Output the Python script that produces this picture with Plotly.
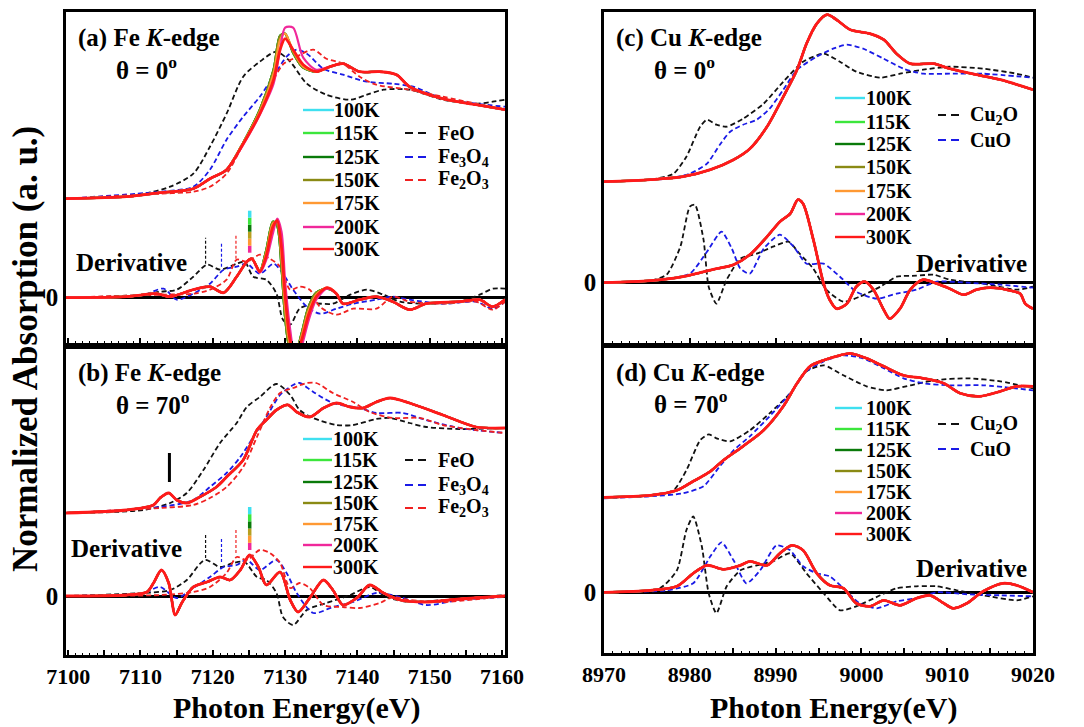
import plotly.graph_objects as go

W, H = 1084, 727
FONT = "Liberation Serif"

# ---------------- categories / styles ----------------
TEMPS = ["100K", "115K", "125K", "150K", "175K", "200K", "300K"]
TEMP_COLORS = ["#3FE0F0", "#3CE63C", "#0A7A0A", "#8A8A14", "#FF9933", "#F0289A", "#FF1A1A"]
FE_REFS = ["FeO", "Fe<sub>3</sub>O<sub>4</sub>", "Fe<sub>2</sub>O<sub>3</sub>"]
FE_REF_COLORS = ["#111111", "#1A1AE6", "#F02020"]
CU_REFS = ["Cu<sub>2</sub>O", "CuO"]
CU_REF_COLORS = ["#111111", "#1A1AE6"]

FE_TICKVALS = [7100, 7105, 7110, 7115, 7120, 7125, 7130, 7135, 7140, 7145, 7150, 7155, 7160]
FE_TICKTEXT = ["7100", "", "7110", "", "7120", "", "7130", "", "7140", "", "7150", "", "7160"]
CU_TICKVALS = [8970, 8975, 8980, 8985, 8990, 8995, 9000, 9005, 9010, 9015, 9020]
CU_TICKTEXT = ["8970", "", "8980", "", "8990", "", "9000", "", "9010", "", "9020"]

# ---------------- panel (a): Fe K-edge, theta = 0 ----------------
A_XAN_E = [7099.7, 7108.1, 7112.7, 7117.3, 7119.6, 7121.9, 7124.2, 7126.5, 7128.4, 7129.3, 7130.0, 7131.1,
           7132.5, 7134.3, 7136.2, 7138.0, 7140.3, 7143.1, 7145.4, 7147.2, 7151.8, 7156.4, 7160.4]
A_XAN_LOW = [0.99, 1.01, 1.05, 1.09, 1.19, 1.28, 1.55, 1.88, 2.28, 2.62, 2.64, 2.45,
             2.30, 2.26, 2.31, 2.34, 2.26, 2.26, 2.23, 2.11, 1.99, 1.93, 1.88]
A_XAN_175 = [0.99, 1.01, 1.05, 1.09, 1.19, 1.28, 1.55, 1.86, 2.24, 2.58, 2.64, 2.47,
             2.31, 2.26, 2.31, 2.34, 2.26, 2.26, 2.23, 2.11, 1.99, 1.93, 1.88]
A_XAN_200 = [0.99, 1.01, 1.05, 1.09, 1.19, 1.28, 1.53, 1.83, 2.14, 2.48, 2.70, 2.70,
             2.40, 2.28, 2.31, 2.34, 2.26, 2.26, 2.23, 2.11, 1.99, 1.93, 1.88]
A_XAN_300 = [0.99, 1.01, 1.05, 1.09, 1.19, 1.28, 1.54, 1.84, 2.18, 2.48, 2.59, 2.48,
             2.33, 2.26, 2.31, 2.34, 2.26, 2.26, 2.23, 2.11, 1.99, 1.93, 1.88]

A_DER_E = [7099.7, 7108.1, 7112.2, 7114.1, 7117.3, 7119.6, 7121.5, 7123.3, 7124.7, 7125.4, 7126.5, 7127.4,
           7128.3, 7128.9, 7129.5, 7130.0, 7130.7, 7131.4, 7132.3, 7133.2, 7134.3, 7135.8, 7137.1, 7138.0,
           7140.3, 7142.6, 7144.9, 7147.2, 7149.5, 7154.1, 7156.9, 7158.7, 7160.4]
A_DER_LOW = [0, 0.01, 0.04, 0.01, 0.08, 0.11, 0.05, 0.21, 0.36, 0.39, 0.27, 0.48,
             0.76, 0.72, 0.30, -0.20, -0.52, -0.55, -0.35, -0.10, 0.05, 0.09, 0.04, -0.06,
             -0.02, 0.01, -0.04, -0.12, -0.06, -0.04, -0.02, -0.09, -0.02]
A_DER_175 = [0, 0.01, 0.04, 0.01, 0.08, 0.11, 0.05, 0.21, 0.36, 0.39, 0.27, 0.45,
             0.74, 0.76, 0.40, -0.10, -0.48, -0.57, -0.38, -0.14, 0.03, 0.10, 0.04, -0.06,
             -0.02, 0.01, -0.04, -0.12, -0.06, -0.04, -0.02, -0.09, -0.02]
A_DER_200 = [0, 0.01, 0.04, 0.01, 0.08, 0.11, 0.05, 0.21, 0.36, 0.39, 0.25, 0.38,
             0.64, 0.79, 0.66, 0.16, -0.32, -0.60, -0.48, -0.24, -0.02, 0.09, 0.04, -0.06,
             -0.02, 0.01, -0.04, -0.12, -0.06, -0.04, -0.02, -0.09, -0.02]
A_DER_300 = [0, 0.01, 0.04, 0.01, 0.08, 0.11, 0.05, 0.21, 0.36, 0.39, 0.26, 0.42,
             0.71, 0.77, 0.50, 0.02, -0.43, -0.58, -0.42, -0.18, 0.01, 0.10, 0.04, -0.06,
             -0.02, 0.01, -0.04, -0.12, -0.06, -0.04, -0.02, -0.09, -0.02]

A_FEO_E = [7099.7, 7110.4, 7114.1, 7117.3, 7119.6, 7121.9, 7124.2, 7126.5, 7128.8, 7130.7, 7133.0, 7135.7,
           7139.0, 7141.3, 7143.6, 7147.2, 7151.8, 7156.4, 7158.7, 7160.4]
A_FEO_XAN = [0.99, 1.04, 1.11, 1.24, 1.51, 1.84, 2.21, 2.36, 2.46, 2.36, 2.14, 2.03,
             1.98, 2.03, 2.08, 2.08, 1.98, 1.94, 1.96, 1.98]
A_FE3O4_E = [7099.7, 7112.7, 7117.3, 7119.6, 7121.9, 7124.2, 7126.5, 7128.8, 7130.2, 7131.6, 7133.0, 7135.3,
             7138.0, 7141.3, 7144.9, 7147.7, 7151.8, 7156.4, 7160.4]
A_FE3O4_XAN = [0.99, 1.06, 1.11, 1.28, 1.58, 1.81, 2.01, 2.26, 2.41, 2.48, 2.44, 2.29,
               2.23, 2.16, 2.14, 2.11, 1.99, 1.94, 1.91]
A_FE2O3_E = [7099.7, 7112.7, 7117.3, 7119.6, 7121.9, 7124.2, 7126.5, 7128.4, 7129.8, 7131.1, 7133.9, 7135.7,
             7138.0, 7140.3, 7142.6, 7147.2, 7151.8, 7156.4, 7160.4]
A_FE2O3_XAN = [0.99, 1.04, 1.06, 1.11, 1.24, 1.54, 1.88, 2.18, 2.34, 2.39, 2.48, 2.39,
               2.34, 2.21, 2.13, 2.08, 2.01, 1.94, 1.88]

A_FEO_DE = [7099.7, 7110.4, 7112.7, 7115.0, 7117.3, 7119.2, 7121.0, 7123.3, 7124.4, 7125.6, 7127.4, 7128.8,
            7129.7, 7130.7, 7132.0, 7133.9, 7136.6, 7139.0, 7141.3, 7143.6, 7145.9, 7149.5, 7154.1, 7156.9,
            7158.7, 7160.4]
A_FEO_DER = [0, 0.03, 0.06, 0.08, 0.21, 0.33, 0.28, 0.34, 0.36, 0.21, 0.18, 0.04,
             -0.22, -0.27, -0.11, -0.06, -0.06, 0.03, 0.08, 0.03, -0.04, -0.06, -0.04, 0.03,
             0.09, 0.09]
A_FE3O4_DE = [7099.7, 7110.4, 7113.2, 7115.0, 7117.3, 7119.6, 7121.5, 7123.3, 7124.7, 7126.5, 7128.4, 7129.7,
              7131.1, 7133.0, 7134.8, 7137.1, 7139.4, 7142.6, 7144.9, 7147.2, 7151.8, 7156.4, 7158.7, 7160.4]
A_FE3O4_DER = [0, 0.03, 0.09, -0.02, 0.04, 0.14, 0.28, 0.31, 0.34, 0.24, 0.34, 0.24,
               0.08, -0.09, -0.16, -0.11, -0.06, -0.02, 0.01, -0.02, -0.06, -0.04, -0.11, -0.04]
A_FE2O3_DE = [7099.7, 7112.7, 7117.3, 7119.6, 7121.9, 7123.3, 7124.7, 7126.5, 7127.9, 7129.3, 7130.7, 7132.0,
              7133.4, 7134.8, 7137.1, 7139.4, 7142.6, 7144.9, 7147.2, 7151.8, 7156.4, 7158.7, 7160.4]
A_FE2O3_DER = [0, 0.03, 0.04, 0.08, 0.18, 0.38, 0.36, 0.43, 0.39, 0.31, 0.08, 0.11,
               0.08, -0.09, -0.17, -0.11, -0.11, 0.01, -0.04, -0.06, -0.04, -0.12, -0.04]

# ---------------- panel (b): Fe K-edge, theta = 70 ----------------
B_XAN_E = [7099.7, 7108.1, 7111.8, 7112.7, 7113.9, 7115.0, 7116.4, 7118.2, 7120.5, 7121.9, 7124.2, 7126.1,
           7127.4, 7128.8, 7130.4, 7131.6, 7133.4, 7135.3, 7137.1, 7139.0, 7140.8, 7142.6, 7144.5, 7147.2,
           7151.8, 7156.4, 7160.4]
B_XAN = [0.83, 0.86, 0.91, 0.98, 1.03, 0.96, 0.93, 0.99, 1.09, 1.19, 1.36, 1.66,
         1.76, 1.86, 1.91, 1.84, 1.79, 1.88, 1.93, 1.89, 1.88, 1.94, 1.98, 1.93,
         1.81, 1.69, 1.68]
B_DER_E = [7099.7, 7108.1, 7110.9, 7111.8, 7112.9, 7113.9, 7114.8, 7115.7, 7117.3, 7119.2, 7121.0, 7122.4,
           7123.8, 7125.1, 7126.3, 7127.4, 7129.3, 7130.7, 7131.8, 7133.4, 7135.3, 7136.6, 7138.0, 7139.9,
           7141.7, 7143.6, 7145.9, 7149.5, 7154.1, 7160.4]
B_DER = [0, 0.01, 0.04, 0.13, 0.26, 0.13, -0.19, -0.07, 0.09, 0.14, 0.19, 0.16,
         0.26, 0.41, 0.29, 0.11, 0.24, -0.04, -0.16, -0.02, 0.16, 0.06, -0.09, -0.02,
         0.11, 0.03, -0.04, -0.06, -0.03, 0]

B_FEO_E = [7099.7, 7110.4, 7114.1, 7116.4, 7118.7, 7121.0, 7123.3, 7124.7, 7126.5, 7128.8, 7130.7, 7132.0,
           7133.9, 7137.1, 7139.4, 7142.6, 7144.5, 7147.2, 7149.5, 7154.1, 7160.4]
B_FEO_XAN = [0.83, 0.86, 0.93, 1.03, 1.26, 1.53, 1.73, 1.89, 1.99, 2.12, 2.01, 1.86,
             1.78, 1.71, 1.71, 1.77, 1.78, 1.73, 1.69, 1.67, 1.68]
B_FE3O4_E = [7099.7, 7112.7, 7117.3, 7119.6, 7121.9, 7123.8, 7125.6, 7127.4, 7129.3, 7131.1, 7132.0, 7133.9,
             7136.6, 7140.3, 7142.6, 7146.3, 7149.5, 7154.1, 7160.4]
B_FE3O4_XAN = [0.83, 0.89, 0.96, 1.09, 1.23, 1.39, 1.59, 1.79, 2.01, 2.11, 2.13, 2.04,
               1.93, 1.88, 1.83, 1.83, 1.76, 1.68, 1.63]
B_FE2O3_E = [7099.7, 7112.7, 7117.3, 7119.6, 7121.9, 7124.2, 7126.1, 7127.9, 7129.3, 7131.1, 7133.0, 7134.3,
             7136.6, 7139.4, 7141.7, 7144.9, 7148.6, 7151.8, 7156.4, 7160.4]
B_FE2O3_XAN = [0.83, 0.88, 0.91, 0.98, 1.09, 1.29, 1.59, 1.88, 2.03, 2.08, 2.13, 2.13,
               2.03, 1.94, 1.84, 1.78, 1.78, 1.71, 1.66, 1.63]

B_FEO_DE = [7099.7, 7110.4, 7114.1, 7116.4, 7118.9, 7121.0, 7122.8, 7124.4, 7126.1, 7127.4, 7128.8, 7129.7,
            7131.1, 7133.0, 7135.7, 7139.0, 7141.7, 7144.0, 7147.2, 7151.8, 7160.4]
B_FEO_DER = [0, 0.03, 0.06, 0.16, 0.36, 0.29, 0.33, 0.34, 0.19, 0.16, 0.03, -0.21,
             -0.29, -0.14, -0.07, 0.01, 0.09, -0.01, -0.06, -0.04, 0.01]
B_FE3O4_DE = [7099.7, 7110.4, 7112.7, 7115.0, 7117.3, 7119.6, 7121.5, 7123.3, 7124.7, 7126.5, 7128.8, 7130.2,
              7131.6, 7133.9, 7136.6, 7139.4, 7142.6, 7145.9, 7149.5, 7154.1, 7160.4]
B_FE3O4_DER = [0, 0.03, 0.09, -0.02, 0.08, 0.19, 0.29, 0.31, 0.36, 0.26, 0.36, 0.23,
               0.03, -0.17, -0.11, -0.06, 0.03, -0.01, -0.09, -0.04, -0.01]
B_FE2O3_DE = [7099.7, 7112.7, 7117.3, 7119.6, 7121.9, 7123.3, 7124.7, 7126.5, 7127.9, 7129.3, 7130.7, 7132.0,
              7133.4, 7135.3, 7138.0, 7140.3, 7143.1, 7144.9, 7147.2, 7151.8, 7160.4]
B_FE2O3_DER = [0, 0.01, 0.04, 0.09, 0.23, 0.39, 0.36, 0.46, 0.43, 0.33, 0.08, 0.13,
               0.08, -0.09, -0.11, -0.12, -0.07, -0.01, -0.04, -0.06, 0]

# ---------------- panel (c): Cu K-edge, theta = 0 ----------------
C_XAN_E = [8970.0, 8975.4, 8979.2, 8982.4, 8985.1, 8987.0, 8989.0, 8990.9, 8992.5, 8993.6, 8994.8, 8996.0,
           8997.1, 8998.7, 9001.0, 9002.6, 9004.1, 9005.7, 9008.4, 9010.3, 9013.4, 9016.2, 9020.0]
C_XAN = [1.01, 1.03, 1.06, 1.13, 1.23, 1.34, 1.56, 1.86, 2.13, 2.39, 2.59, 2.68,
         2.63, 2.53, 2.49, 2.43, 2.29, 2.19, 2.19, 2.14, 2.08, 2.03, 1.93]
C_DER_E = [8970.0, 8975.4, 8979.2, 8981.2, 8983.1, 8985.1, 8987.0, 8989.0, 8990.5, 8991.7, 8992.6, 8993.2,
           8994.4, 8995.6, 8996.3, 8997.1, 8998.3, 8999.4, 9000.4, 9001.4, 9002.6, 9003.3, 9004.5, 9005.7,
           9007.2, 9008.8, 9010.3, 9011.9, 9013.4, 9015.0, 9016.9, 9018.5, 9019.1, 9020.0]
C_DER = [0, 0.02, 0.06, 0.10, 0.14, 0.18, 0.28, 0.46, 0.61, 0.69, 0.83, 0.79,
         0.43, -0.01, -0.17, -0.26, -0.21, -0.04, 0.01, -0.07, -0.27, -0.36, -0.26, -0.07,
         0.03, -0.01, -0.06, -0.12, -0.07, -0.05, -0.07, -0.11, -0.21, -0.26]

C_CU2O_E = [8970.0, 8975.4, 8978.1, 8979.6, 8981.2, 8982.0, 8983.1, 8984.3, 8986.2, 8988.6, 8990.9, 8993.2,
            8995.6, 8997.5, 8999.4, 9002.2, 9004.5, 9007.2, 9010.3, 9014.2, 9018.1, 9020.0]
C_CU2O_XAN = [1.01, 1.03, 1.09, 1.26, 1.56, 1.63, 1.58, 1.56, 1.64, 1.79, 2.01, 2.21,
              2.29, 2.21, 2.11, 2.05, 2.09, 2.13, 2.16, 2.14, 2.09, 2.05]
C_CUO_E = [8970.0, 8977.3, 8980.0, 8982.0, 8983.5, 8984.7, 8986.2, 8987.8, 8989.3, 8990.9, 8992.5, 8994.8,
           8996.7, 8998.3, 9000.2, 9002.6, 9004.9, 9007.2, 9010.3, 9014.2, 9020.0]
C_CUO_XAN = [1.01, 1.04, 1.09, 1.19, 1.38, 1.51, 1.58, 1.63, 1.74, 1.93, 2.13, 2.26,
             2.34, 2.38, 2.34, 2.24, 2.14, 2.09, 2.09, 2.09, 2.05]
C_CU2O_DE = [8970.0, 8975.4, 8977.3, 8978.9, 8980.0, 8980.6, 8981.6, 8982.2, 8983.1, 8984.3, 8985.9, 8987.8,
             8989.7, 8991.5, 8992.8, 8994.4, 8995.9, 8997.9, 8999.8, 9002.2, 9004.1, 9006.4, 9008.4, 9010.3,
             9014.2, 9018.1, 9020.0]
C_CU2O_DER = [0, 0.02, 0.08, 0.36, 0.76, 0.78, 0.43, -0.04, -0.21, 0.03, 0.24, 0.29,
              0.36, 0.41, 0.29, 0.14, -0.07, -0.19, -0.14, -0.04, 0.06, 0.07, 0.08, 0.03,
              -0.01, -0.07, -0.04]
C_CUO_DE = [8970.0, 8975.4, 8980.0, 8982.0, 8983.7, 8984.9, 8985.9, 8987.0, 8988.6, 8990.5, 8992.1, 8993.6,
            8995.6, 8997.5, 8999.4, 9001.8, 9004.1, 9006.4, 9008.8, 9012.3, 9016.2, 9020.0]
C_CUO_DER = [0, 0.02, 0.09, 0.31, 0.51, 0.34, 0.14, 0.09, 0.34, 0.48, 0.36, 0.19,
             0.19, 0.06, -0.09, -0.16, -0.11, -0.07, 0.01, 0, -0.02, -0.05]

# ---------------- panel (d): Cu K-edge, theta = 70 ----------------
D_XAN_E = [8970.0, 8975.4, 8978.5, 8980.4, 8982.4, 8983.9, 8986.2, 8988.6, 8990.9, 8992.5, 8994.0, 8995.6,
           8997.5, 8998.7, 9000.6, 9002.6, 9004.9, 9007.2, 9009.6, 9011.5, 9013.8, 9016.2, 9018.1, 9020.0]
D_XAN = [0.95, 0.97, 1.02, 1.11, 1.21, 1.32, 1.46, 1.62, 1.86, 2.09, 2.26, 2.32,
         2.37, 2.39, 2.34, 2.26, 2.17, 2.14, 2.09, 1.99, 1.96, 2.01, 2.06, 2.06]
D_DER_E = [8970.0, 8975.4, 8978.5, 8980.4, 8982.0, 8983.9, 8985.9, 8987.0, 8989.0, 8990.5, 8991.9, 8993.2,
           8994.8, 8996.3, 8997.9, 8999.4, 9001.0, 9002.6, 9004.5, 9006.4, 9008.0, 9009.6, 9010.7, 9012.3,
           9014.2, 9016.5, 9018.1, 9020.0]
D_DER = [0, 0.02, 0.06, 0.19, 0.27, 0.23, 0.27, 0.31, 0.27, 0.39, 0.47, 0.42,
         0.19, 0.07, 0.04, -0.11, -0.14, -0.08, -0.13, -0.06, -0.03, -0.11, -0.16, -0.11,
         0.01, 0.09, 0.07, 0]

D_CU2O_E = [8970.0, 8975.4, 8978.1, 8979.6, 8981.2, 8982.2, 8983.1, 8984.7, 8987.0, 8989.3, 8991.7, 8993.6,
            8995.6, 8997.9, 9000.6, 9002.9, 9005.7, 9008.4, 9012.3, 9016.2, 9020.0]
D_CU2O_XAN = [0.95, 0.97, 1.02, 1.22, 1.52, 1.58, 1.54, 1.51, 1.62, 1.79, 1.99, 2.21,
              2.27, 2.17, 2.06, 2.02, 2.07, 2.12, 2.14, 2.11, 2.04]
D_CUO_E = [8970.0, 8975.4, 8979.2, 8981.6, 8983.5, 8985.1, 8987.0, 8989.3, 8991.7, 8993.6, 8995.6, 8997.9,
           9000.2, 9002.6, 9004.9, 9007.2, 9010.3, 9014.2, 9020.0]
D_CUO_XAN = [0.94, 0.96, 0.99, 1.06, 1.26, 1.42, 1.56, 1.76, 1.99, 2.21, 2.31, 2.37,
             2.34, 2.24, 2.14, 2.09, 2.07, 2.07, 2.02]
D_CU2O_DE = [8970.0, 8976.5, 8978.5, 8979.6, 8980.4, 8981.4, 8982.2, 8983.1, 8984.3, 8985.9, 8987.8, 8989.7,
             8991.7, 8993.6, 8995.6, 8997.5, 8999.4, 9002.2, 9004.1, 9006.4, 9008.8, 9011.1, 9014.2, 9018.1,
             9020.0]
D_CU2O_DER = [0, 0.04, 0.22, 0.62, 0.76, 0.46, -0.01, -0.21, 0.06, 0.22, 0.27, 0.31,
              0.39, 0.19, -0.01, -0.18, -0.14, -0.03, 0.04, 0.06, 0.06, 0.02, -0.03, -0.08,
              -0.04]
D_CUO_DE = [8970.0, 8977.3, 8980.4, 8982.4, 8983.7, 8985.1, 8986.6, 8988.2, 8990.1, 8991.7, 8993.2, 8994.8,
            8996.3, 8997.9, 8999.8, 9001.8, 9004.1, 9006.4, 9008.8, 9012.3, 9016.2, 9020.0]
D_CUO_DER = [0, 0.02, 0.09, 0.36, 0.50, 0.32, 0.09, 0.22, 0.47, 0.42, 0.26, 0.19,
             0.16, 0.04, -0.11, -0.16, -0.09, -0.06, 0, -0.02, -0.03, -0.04]

# ---------------- guide markers in the Fe panels ----------------
FE_EDGE_E = [7119.0, 7121.2, 7123.2]            # FeO, Fe3O4, Fe2O3 edge positions
A_EDGE_LO = [0.34, 0.31, 0.39]
A_EDGE_HI = [0.60, 0.55, 0.64]
B_EDGE_LO = [0.38, 0.34, 0.43]
B_EDGE_HI = [0.62, 0.58, 0.67]
SAMPLE_EDGE_E = 7125.1
A_SAMPLE_EDGE = [0.45, 0.87]
B_SAMPLE_EDGE = [0.46, 0.89]
GRAD_COLORS = ["#F0289A", "#FF9933", "#B8A020", "#0A7A0A", "#3CE63C", "#3FE0F0"]
PRE_EDGE_E = 7114.0
B_PRE_EDGE = [1.14, 1.43]

# ---------------- layout geometry (pixels) ----------------
def fx(px):
    return px / W

def fy(py):
    return 1 - py / H

PANELS = {
    "a": dict(xa="x", ya="y", xdom=(66, 505), ydom=(12, 343), xr=(7099.7, 7160.4), yr=(-0.453, 2.857)),
    "b": dict(xa="x2", ya="y2", xdom=(66, 505), ydom=(349, 655), xr=(7099.7, 7160.4), yr=(-0.59, 2.47)),
    "c": dict(xa="x3", ya="y3", xdom=(604, 1033), ydom=(12, 343), xr=(8970, 9020), yr=(-0.603, 2.707)),
    "d": dict(xa="x4", ya="y4", xdom=(604, 1033), ydom=(348, 653), xr=(8970, 9020), yr=(-0.607, 2.443)),
}

fig = go.Figure()


def add_line(panel, x, y, color, width, dash="solid", smooth=1.0):
    p = PANELS[panel]
    fig.add_trace(go.Scatter(x=x, y=y, mode="lines", xaxis=p["xa"], yaxis=p["ya"],
                             line=dict(color=color, width=width, dash=dash, shape="spline", smoothing=smooth),
                             showlegend=False, hoverinfo="skip"))


REF_DASH = "5px,3px"
REF_W = 1.8


def temp_width(t):
    return 2.8 if t == "300K" else 2.2


# panel (a)
for xs, ys, c in [(A_FEO_E, A_FEO_XAN, FE_REF_COLORS[0]), (A_FE3O4_E, A_FE3O4_XAN, FE_REF_COLORS[1]),
                  (A_FE2O3_E, A_FE2O3_XAN, FE_REF_COLORS[2]),
                  (A_FEO_DE, A_FEO_DER, FE_REF_COLORS[0]), (A_FE3O4_DE, A_FE3O4_DER, FE_REF_COLORS[1]),
                  (A_FE2O3_DE, A_FE2O3_DER, FE_REF_COLORS[2])]:
    add_line("a", xs, ys, c, REF_W, REF_DASH, 0.8)
A_TEMP_XAN = [A_XAN_LOW, A_XAN_LOW, A_XAN_LOW, A_XAN_LOW, A_XAN_175, A_XAN_200, A_XAN_300]
A_TEMP_DER = [A_DER_LOW, A_DER_LOW, A_DER_LOW, A_DER_LOW, A_DER_175, A_DER_200, A_DER_300]
for i, t in enumerate(TEMPS):
    add_line("a", A_XAN_E, A_TEMP_XAN[i], TEMP_COLORS[i], temp_width(t), smooth=0.8)
    add_line("a", A_DER_E, A_TEMP_DER[i], TEMP_COLORS[i], temp_width(t), smooth=0.8)

# panel (b)
for xs, ys, c in [(B_FEO_E, B_FEO_XAN, FE_REF_COLORS[0]), (B_FE3O4_E, B_FE3O4_XAN, FE_REF_COLORS[1]),
                  (B_FE2O3_E, B_FE2O3_XAN, FE_REF_COLORS[2]),
                  (B_FEO_DE, B_FEO_DER, FE_REF_COLORS[0]), (B_FE3O4_DE, B_FE3O4_DER, FE_REF_COLORS[1]),
                  (B_FE2O3_DE, B_FE2O3_DER, FE_REF_COLORS[2])]:
    add_line("b", xs, ys, c, REF_W, REF_DASH, 0.8)
for i, t in enumerate(TEMPS):
    add_line("b", B_XAN_E, B_XAN, TEMP_COLORS[i], temp_width(t), smooth=0.8)
    add_line("b", B_DER_E, B_DER, TEMP_COLORS[i], temp_width(t), smooth=0.8)

# panel (c)
for xs, ys, c in [(C_CU2O_E, C_CU2O_XAN, CU_REF_COLORS[0]), (C_CUO_E, C_CUO_XAN, CU_REF_COLORS[1]),
                  (C_CU2O_DE, C_CU2O_DER, CU_REF_COLORS[0]), (C_CUO_DE, C_CUO_DER, CU_REF_COLORS[1])]:
    add_line("c", xs, ys, c, REF_W, REF_DASH, 0.6)
for i, t in enumerate(TEMPS):
    add_line("c", C_XAN_E, C_XAN, TEMP_COLORS[i], temp_width(t), smooth=0.8)
    add_line("c", C_DER_E, C_DER, TEMP_COLORS[i], temp_width(t), smooth=0.8)

# panel (d)
for xs, ys, c in [(D_CU2O_E, D_CU2O_XAN, CU_REF_COLORS[0]), (D_CUO_E, D_CUO_XAN, CU_REF_COLORS[1]),
                  (D_CU2O_DE, D_CU2O_DER, CU_REF_COLORS[0]), (D_CUO_DE, D_CUO_DER, CU_REF_COLORS[1])]:
    add_line("d", xs, ys, c, REF_W, REF_DASH, 0.6)
for i, t in enumerate(TEMPS):
    add_line("d", D_XAN_E, D_XAN, TEMP_COLORS[i], temp_width(t), smooth=0.8)
    add_line("d", D_DER_E, D_DER, TEMP_COLORS[i], temp_width(t), smooth=0.8)

# ---------------- shapes: edge markers ----------------
shapes = []
for panel, lo, hi, bar in [("a", A_EDGE_LO, A_EDGE_HI, A_SAMPLE_EDGE), ("b", B_EDGE_LO, B_EDGE_HI, B_SAMPLE_EDGE)]:
    p = PANELS[panel]
    for e, l, h, c in zip(FE_EDGE_E, lo, hi, FE_REF_COLORS):
        shapes.append(dict(type="line", xref=p["xa"], yref=p["ya"], x0=e, x1=e, y0=l, y1=h,
                           line=dict(color=c, width=1.2, dash="3px,2px")))
    n = len(GRAD_COLORS)
    step = (bar[1] - bar[0]) / n
    for k, c in enumerate(GRAD_COLORS):
        shapes.append(dict(type="line", xref=p["xa"], yref=p["ya"], x0=SAMPLE_EDGE_E, x1=SAMPLE_EDGE_E,
                           y0=bar[0] + k * step, y1=bar[0] + (k + 1) * step, line=dict(color=c, width=3.5)))
pb = PANELS["b"]
shapes.append(dict(type="line", xref=pb["xa"], yref=pb["ya"], x0=PRE_EDGE_E, x1=PRE_EDGE_E,
                   y0=B_PRE_EDGE[0], y1=B_PRE_EDGE[1], line=dict(color="black", width=3)))

# ---------------- manual legends ----------------
annotations = []
LEG_FONT = dict(family=FONT, size=20, color="black")


def legend_block(names, colors, x0, x1, xt, ys, dash):
    for name, c, y in zip(names, colors, ys):
        shapes.append(dict(type="line", xref="paper", yref="paper", x0=fx(x0), x1=fx(x1), y0=fy(y), y1=fy(y),
                           line=dict(color=c, width=2.4 if dash == "solid" else 2.0, dash=dash)))
        annotations.append(dict(text="<b>" + name + "</b>", xref="paper", yref="paper", x=fx(xt), y=fy(y),
                                xanchor="left", yanchor="middle", showarrow=False, font=LEG_FONT))


legend_block(TEMPS, TEMP_COLORS, 303, 334, 332, [110, 133, 157, 180, 203, 227, 249], "solid")
legend_block(FE_REFS, FE_REF_COLORS, 405, 430, 436, [133, 157, 180], "8px,5px")
legend_block(TEMPS, TEMP_COLORS, 303, 332, 331, [439, 460, 482, 503, 524, 545, 567], "solid")
legend_block(FE_REFS, FE_REF_COLORS, 405, 430, 436, [460, 485, 508], "8px,5px")
legend_block(TEMPS, TEMP_COLORS, 835, 865, 864, [98, 122, 144, 167, 191, 214, 237], "solid")
legend_block(CU_REFS, CU_REF_COLORS, 938, 963, 968, [115, 140], "8px,5px")
legend_block(TEMPS, TEMP_COLORS, 835, 862, 864, [408, 429, 450, 471, 492, 513, 534], "solid")
legend_block(CU_REFS, CU_REF_COLORS, 938, 963, 968, [424, 449], "8px,5px")

# ---------------- text annotations ----------------
LBL_FONT = dict(family=FONT, size=25, color="black")
for txt, x, y in [("(a) Fe <i>K</i>-edge", 76, 38), ("θ = 0<sup>o</sup>", 114, 68),
                  ("(b) Fe <i>K</i>-edge", 76, 373), ("θ = 70<sup>o</sup>", 114, 403),
                  ("(c) Cu <i>K</i>-edge", 614, 38), ("θ = 0<sup>o</sup>", 652, 68),
                  ("(d) Cu <i>K</i>-edge", 614, 373), ("θ = 70<sup>o</sup>", 652, 402),
                  ("Derivative", 74, 262), ("Derivative", 69, 548),
                  ("Derivative", 914, 263), ("Derivative", 914, 568)]:
    annotations.append(dict(text="<b>" + txt + "</b>", xref="paper", yref="paper", x=fx(x), y=fy(y),
                            xanchor="left", yanchor="middle", showarrow=False, font=LBL_FONT))

annotations.append(dict(text="<b>Normalized Absorption (a. u.)</b>", xref="paper", yref="paper",
                        x=fx(26), y=fy(349), textangle=-90, xanchor="center", yanchor="middle",
                        showarrow=False, font=dict(family=FONT, size=35, color="black")))
XT_FONT = dict(family=FONT, size=30, color="black")
annotations.append(dict(text="<b>Photon Energy(eV)</b>", xref="paper", yref="paper", x=fx(296), y=fy(708),
                        xanchor="center", yanchor="middle", showarrow=False, font=XT_FONT))
annotations.append(dict(text="<b>Photon Energy(eV)</b>", xref="paper", yref="paper", x=fx(833), y=fy(708),
                        xanchor="center", yanchor="middle", showarrow=False, font=XT_FONT))

# ---------------- axes ----------------
layout = dict(width=W, height=H, margin=dict(l=0, r=0, t=0, b=0, autoexpand=False), paper_bgcolor="white",
              plot_bgcolor="white", showlegend=False, shapes=shapes, annotations=annotations)

TICK_FONT = dict(family=FONT, size=22, color="black")
for key, p in PANELS.items():
    xname = "xaxis" + ("" if p["xa"] == "x" else p["xa"][1:])
    yname = "yaxis" + ("" if p["ya"] == "y" else p["ya"][1:])
    is_fe = key in ("a", "b")
    bottom = key in ("b", "d")
    xa = dict(domain=[fx(p["xdom"][0]), fx(p["xdom"][1])], range=list(p["xr"]), anchor=p["ya"],
              automargin=False,
              showline=True, linewidth=2.5, linecolor="black", mirror=True, showgrid=False, zeroline=False,
              ticks="inside", ticklen=5, tickwidth=1.5, tickcolor="black",
              tickmode="array",
              tickvals=FE_TICKVALS if is_fe else CU_TICKVALS,
              ticktext=[("<b>" + t + "</b>" if t else "") for t in (FE_TICKTEXT if is_fe else CU_TICKTEXT)],
              showticklabels=bottom, tickfont=TICK_FONT,
              minor=dict(ticks="inside", ticklen=2.5, tickwidth=1.2, tickcolor="black",
                         dtick=1, tick0=7100 if is_fe else 8970, showgrid=False))
    ya = dict(domain=[fy(p["ydom"][1]), fy(p["ydom"][0])], range=list(p["yr"]), anchor=p["xa"],
              automargin=False,
              showline=True, linewidth=2.5, linecolor="black", mirror=True, showgrid=False,
              zeroline=True, zerolinecolor="black", zerolinewidth=2.5,
              tickmode="array", tickvals=[0], ticktext=["<b>0</b>"], ticks="",
              tickfont=dict(family=FONT, size=25, color="black"))
    layout[xname] = xa
    layout[yname] = ya

fig.update_layout(**layout)
fig.write_html("out.html")
